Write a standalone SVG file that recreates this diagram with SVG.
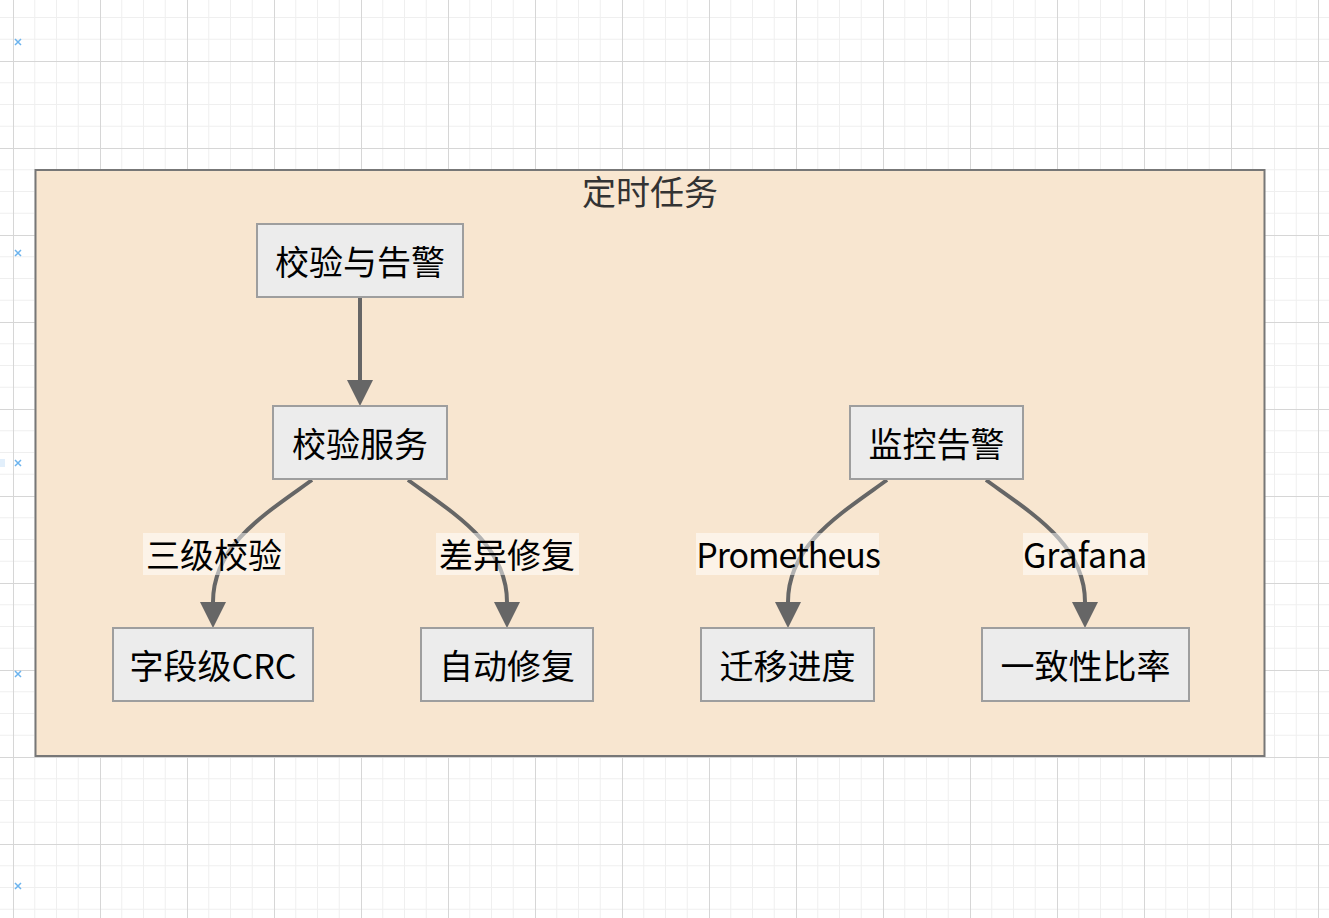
<svg xmlns="http://www.w3.org/2000/svg" width="1329" height="918" viewBox="0 0 1329 918">
<defs>
<pattern id="grid" x="13" y="61" width="87" height="87" patternUnits="userSpaceOnUse">
<path d="M21.75,0V87M43.5,0V87M65.25,0V87M0,21.75H87M0,43.5H87M0,65.25H87" stroke="#efefef" stroke-width="1" fill="none"/>
<path d="M0.5,0V87M0,0.5H87" stroke="#d6d6d6" stroke-width="1" fill="none"/>
</pattern>
<marker id="arrow" viewBox="0 0 26 26" refX="0" refY="13" markerWidth="26" markerHeight="26" markerUnits="userSpaceOnUse" orient="auto">
<path d="M0,0L26,13L0,26z" fill="#666"/>
</marker>
<style>
.node rect{fill:#ececec;stroke:#9e9e9e;stroke-width:2}
.node text{font-family:"Noto Sans CJK SC","Noto Sans",sans-serif;font-size:34px;fill:#000;text-anchor:middle;dominant-baseline:central}
.edge{fill:none;stroke:#666;stroke-width:4;marker-end:url(#arrow)}
.lbg{fill:#fff;fill-opacity:0.5}
.ltxt{font-family:"Noto Sans CJK SC","Noto Sans",sans-serif;font-size:34px;fill:#000;text-anchor:middle;dominant-baseline:central}
.x{stroke:#6cb4ee;stroke-width:1.5}
</style>
</defs>
<rect width="1329" height="918" fill="#fff"/>
<rect width="1329" height="918" fill="url(#grid)"/>
<g id="markers">
<rect x="0" y="459" width="5" height="8" fill="#e2effb"/>
<path class="x" d="M15,39l6,6m0,-6l-6,6M15,250l6,6m0,-6l-6,6M15,460l6,6m0,-6l-6,6M15,671l6,6m0,-6l-6,6M15,883l6,6m0,-6l-6,6"/>
</g>
<g id="cluster">
<rect x="35.5" y="170" width="1229" height="586" fill="#f8e6d0" stroke="#777" stroke-width="2"/>
<text x="650" y="190" font-family="'Noto Sans CJK SC','Noto Sans',sans-serif" font-size="34" fill="#333" text-anchor="middle" dominant-baseline="central">定时任务</text>
</g>
<g id="connectors">
<path class="edge" d="M360,297L360,380"/>
<path class="edge" d="M312,480C265,514 213,545 213,602"/>
<path class="edge" d="M408,480C455,514 507,545 507,602"/>
<path class="edge" d="M887,480C840,514 788,545 788,602"/>
<path class="edge" d="M986,480C1033,514 1085,545 1085,602"/>
<rect class="lbg" x="143" y="533" width="142" height="42"/>
<text class="ltxt" x="214" y="553">三级校验</text>
<rect class="lbg" x="436" y="533" width="143" height="42"/>
<text class="ltxt" x="507" y="553">差异修复</text>
<rect class="lbg" x="696" y="533" width="183" height="42"/>
<text class="ltxt" x="788" y="553" letter-spacing="-1">Prometheus</text>
<rect class="lbg" x="1023" y="533" width="125" height="42"/>
<text class="ltxt" x="1085" y="553">Grafana</text>
</g>
<g id="n1" class="node"><rect x="257" y="224" width="206" height="73"/><text x="360" y="260">校验与告警</text></g>
<g id="n2" class="node"><rect x="273" y="406" width="174" height="73"/><text x="360" y="442">校验服务</text></g>
<g id="n3" class="node"><rect x="850" y="406" width="173" height="73"/><text x="936.5" y="442">监控告警</text></g>
<g id="n4" class="node"><rect x="113" y="628" width="200" height="73"/><text x="213" y="664">字段级CRC</text></g>
<g id="n5" class="node"><rect x="421" y="628" width="172" height="73"/><text x="507" y="664">自动修复</text></g>
<g id="n6" class="node"><rect x="701" y="628" width="173" height="73"/><text x="787.5" y="664">迁移进度</text></g>
<g id="n7" class="node"><rect x="982" y="628" width="207" height="73"/><text x="1085.5" y="664">一致性比率</text></g>
</svg>
